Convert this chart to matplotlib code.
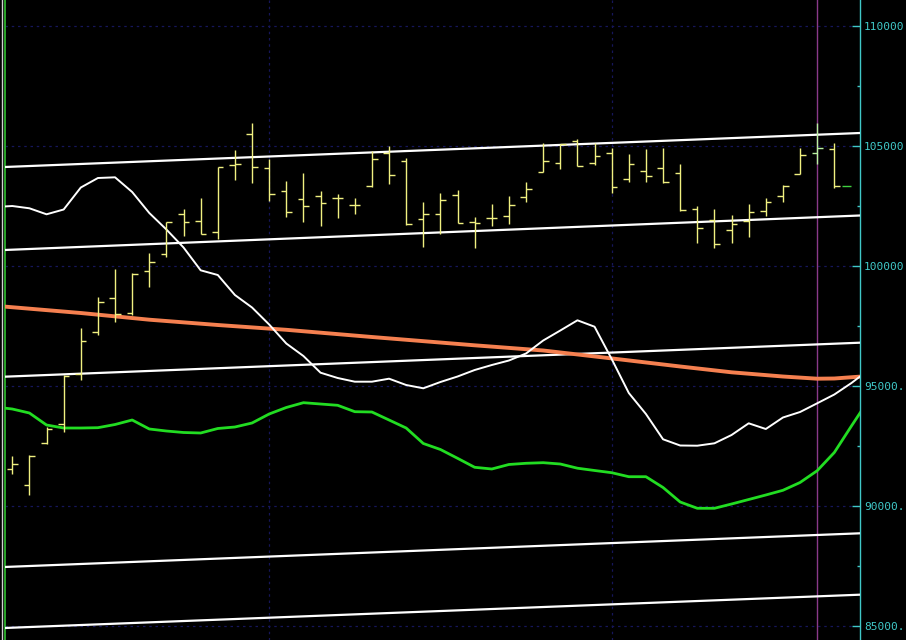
import numpy as np
import matplotlib
matplotlib.use('Agg')
import matplotlib.pyplot as plt
from matplotlib.lines import Line2D

# OHLC bars (one per session)
bar_open = [91517, 90850, 92625, 93392, 95475, 97225, 98642, 98017, 99779, 100475,
            102154, 101863, 101392, 104196, 105475, 104083, 103113, 102767, 102917, 102808,
            102529, 103321, 104708, 104363, 101933, 102142, 102933, 101833, 102000, 102071,
            102875, 103917, 104267, 105196, 104267, 104708, 103613, 103946, 104058, 103850,
            102350, 101892, 101475, 101863, 102292, 102904, 103821, 104683, 104850]
bar_high = [92071, 92112, 93292, 95446, 97392, 98683, 99850, 99683, 100517, 101808,
            102350, 102808, 104125, 104821, 105933, 104433, 103542, 103850, 103113, 102975,
            102808, 104779, 104988, 104475, 102642, 103017, 103142, 102017, 102558, 102904,
            103475, 105100, 105058, 105279, 105100, 104892, 104642, 104850, 104917, 104225,
            102500, 102350, 102113, 102558, 102833, 103363, 104892, 105933, 105100]
bar_low = [91321, 90446, 92558, 93083, 95237, 97113, 97667, 97946, 99125, 100375,
           101250, 101308, 101113, 103571, 103458, 102696, 102042, 101808, 101667, 102000,
           102154, 103292, 103417, 101696, 100792, 101308, 101767, 100750, 101654, 101738,
           102667, 103892, 104017, 104154, 104196, 103017, 103500, 103500, 103433, 102292,
           100933, 100725, 100958, 101208, 102071, 102667, 103808, 104225, 103250]
bar_close = [91725, 92083, 93183, 95404, 96862, 98475, 97988, 99667, 100167, 101808,
             101808, 101321, 104100, 104225, 104100, 102975, 102250, 102488, 102600, 102808,
             102529, 104433, 103779, 101725, 102142, 102738, 101792, 101767, 101975, 102529,
             103196, 104363, 105058, 104154, 104571, 103292, 104238, 103750, 103475, 102321,
             101558, 100904, 101738, 102225, 102642, 103321, 104613, 104892, 103321]

# indicator curves, one value per bar position from -1 to 50
ind_x = list(range(-1, 51))
white_curve = [102446, 102487, 102392, 102142, 102342, 103258, 103654, 103683, 103071, 102196,
               101508, 100758, 99808, 99612, 98779, 98258, 97550, 96758, 96237, 95542,
               95321, 95167, 95167, 95292, 95029, 94892, 95154, 95383, 95654, 95862,
               96050, 96342, 96883, 97300, 97725, 97458, 96112, 94696, 93821, 92767,
               92508, 92500, 92600, 92946, 93433, 93196, 93675, 93904, 94267, 94633,
               95112, 95654]
green_curve = [94112, 94029, 93862, 93362, 93237, 93237, 93250, 93383, 93571, 93196,
               93112, 93050, 93029, 93217, 93279, 93446, 93821, 94092, 94292, 94237,
               94183, 93917, 93904, 93571, 93237, 92592, 92342, 91975, 91600, 91529,
               91717, 91767, 91792, 91737, 91562, 91467, 91375, 91208, 91208, 90758,
               90154, 89892, 89892, 90071, 90258, 90446, 90642, 90967, 91458, 92217,
               93321, 94404]

# slow moving average (orange)
ma_x = [-1, 4, 8, 12, 16, 21, 27, 31, 35, 39, 42, 45, 47, 48, 50]
ma_val = [98329, 98029, 97750, 97529, 97329, 97029, 96683, 96467, 96137, 95800,
          95558, 95383, 95292, 95300, 95404]

# parallel channel lines: value at left edge, value at right edge
chan_left = [104112, 100654, 95375, 87446, 84904]
chan_right = [105529, 102092, 96792, 88850, 86292]

# right axis
y_ticks = [110000, 105000, 100000, 95000, 90000, 85000]
y_labels = ['110000', '105000', '100000', '95000.', '90000.', '85000.']
y_minor = [107500, 102500, 97500, 92500, 87500]
v_grid = [15, 35]
cursor_bar = 47

x_min, x_max = -0.455, 49.5
y_min, y_max = 84404, 111071

fig = plt.figure(figsize=(9.06, 6.4), dpi=100, facecolor='black')
ax = fig.add_axes([4.5 / 906, 0, (860 - 4.5) / 906, 1], facecolor='black')

# grid (dark navy dots)
for v in y_ticks:
    ax.axhline(v, color='#16165a', lw=0.9, ls=(0, (2, 3)), zorder=1)
for g in v_grid:
    ax.axvline(g, color='#16165a', lw=0.9, ls=(0, (2, 3)), zorder=1)

# cursor line
ax.axvline(cursor_bar, color='#8a3a8a', lw=1.0, zorder=2)

# channel lines
for l, r in zip(chan_left, chan_right):
    ax.plot([x_min, x_max], [l, r], color='white', lw=1.6, zorder=3)

# indicators
ax.plot(ma_x, ma_val, color='#f58050', lw=2.8, zorder=4)
ax.plot(ind_x, green_curve, color='#22dd22', lw=2.0, zorder=4)
ax.plot(ind_x, white_curve, color='white', lw=1.4, zorder=5)

# OHLC bars
xs = np.arange(len(bar_open))
w = 0.33
colors = ['#f0f080'] * len(xs)
colors[cursor_bar] = '#b8f0a0'
ax.vlines(xs, bar_low, bar_high, colors=colors, lw=1.0, zorder=6)
ax.hlines(bar_open, xs - w, xs, colors=colors, lw=1.0, zorder=6)
ax.hlines(bar_close, xs, xs + w, colors=colors, lw=1.0, zorder=6)

# last close marker
ax.hlines(bar_close[-1], xs[-1] + 0.45, xs[-1] + 0.95, colors='#40d040', lw=1.0, zorder=6)

ax.set_xlim(x_min, x_max)
ax.set_ylim(y_min, y_max)

# axis styling
for s in ['top', 'bottom']:
    ax.spines[s].set_visible(False)
ax.spines['left'].set_color('#30c030')
ax.spines['left'].set_linewidth(1.2)
ax.spines['right'].set_color('#40c8c8')
ax.spines['right'].set_linewidth(1.0)

ax.set_xticks([])
ax.yaxis.tick_right()
ax.set_yticks(y_ticks)
ax.set_yticklabels(y_labels)
ax.set_yticks(y_minor, minor=True)
ax.tick_params(axis='y', which='major', direction='in', length=6, width=1,
               color='#40c8c8', labelcolor='#40c8c8', labelsize=8, pad=3)
ax.tick_params(axis='y', which='minor', direction='in', length=2.5, width=1,
               color='#40c8c8')
for t in ax.get_yticklabels():
    t.set_fontfamily('DejaVu Sans Mono')

# thin white border at far left
fig.add_artist(Line2D([1.5 / 906, 1.5 / 906], [0, 1], color='#d0d0d0', lw=1.0))

plt.savefig('out.png', dpi=100, facecolor='black')
plt.close()
